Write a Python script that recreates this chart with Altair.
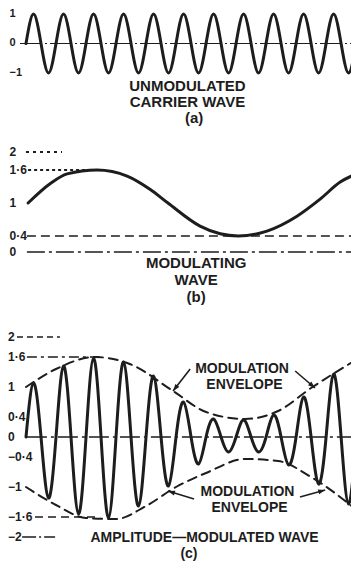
import math
import altair as alt
import pandas as pd

FONT = "Liberation Sans"
INK = "#1d1d1d"

# ---------------- data (time measured in carrier cycles) ----------------
# (a) unmodulated carrier: zero crossings and crests
a_time = [0.0, 0.25, 0.5, 0.75, 1.0, 1.25, 1.5, 1.75, 2.0, 2.25, 2.5, 2.75,
          3.0, 3.25, 3.5, 3.75, 4.0, 4.25, 4.5, 4.75, 5.0, 5.25, 5.5, 5.75,
          6.0, 6.25, 6.5, 6.75, 7.0, 7.25, 7.5, 7.75, 8.0, 8.25, 8.5, 8.75,
          9.0, 9.25, 9.5, 9.75, 10.0, 10.25, 10.5, 10.75, 11.0]
a_value = [0, 1, 0, -1, 0, 1, 0, -1, 0, 1, 0, -1,
           0, 1, 0, -1, 0, 1, 0, -1, 0, 1, 0, -1,
           0, 1, 0, -1, 0, 1, 0, -1, 0, 1, 0, -1,
           0, 1, 0, -1, 0, 1, 0, -1, 0]

# (b) modulating wave
b_time = [0.07, 0.8, 1.37, 2.37, 3.37, 4.13, 4.73, 5.8, 6.47, 7.07, 8.03, 9.03, 9.8, 10.47, 11.1]
b_value = [1.0, 1.35, 1.53, 1.6, 1.49, 1.25, 1.0, 0.58, 0.44, 0.4, 0.49, 0.76, 1.07, 1.38, 1.55]

# (c) amplitude-modulated wave (same instants as the carrier)
c_time = a_time
c_value = [0, 1.08, 0, -1.22, 0, 1.42, 0, -1.54, 0, 1.58, 0, -1.62,
           0, 1.50, 0, -1.38, 0, 1.22, 0, -0.98, 0, 0.70, 0, -0.54,
           0, 0.36, 0, -0.30, 0, 0.34, 0, -0.30, 0, 0.44, 0, -0.56,
           0, 0.80, 0, -0.94, 0, 1.26, 0, -1.34, 0]

env_upper_time = [0.0, 1.0, 2.3, 3.5, 4.9, 6.0, 7.3, 8.4, 9.5, 11.1]
env_upper_value = [1.0, 1.36, 1.60, 1.45, 0.92, 0.50, 0.36, 0.52, 0.98, 1.58]
env_lower_time = [0.0, 1.0, 2.0, 3.0, 4.0, 5.0, 6.0, 7.3, 8.4, 9.5, 11.1]
env_lower_value = [-1.0, -1.36, -1.62, -1.64, -1.38, -1.0, -0.72, -0.44, -0.48, -0.8, -1.5]

a_ticks = [1, 0, -1]
a_tick_labels = ["1", "0", "\u22121"]
b_ticks = [2, 1.6, 1, 0.4, 0]
b_tick_labels = ["2", "1\u00b76", "1", "0\u00b74", "0"]
c_ticks = [2, 1.6, 1, 0.4, 0, -0.4, -1, -1.6, -2]
c_tick_labels = ["2", "1\u00b76", "1", "0\u00b74", "0", "\u22120\u00b74", "\u22121", "\u22121\u00b76", "\u22122"]

# ---------------- scales ----------------
W = 343
X_END = 10.83
X = alt.Scale(domain=[-0.6, X_END], nice=False, zero=False)
YA = alt.Scale(domain=[-2.832, 1.17], nice=False, zero=False)
YB = alt.Scale(domain=[-1.413, 0, 0.4, 1.6, 2, 2.556], range=[178, 125, 109, 43, 25, 0], nice=False, zero=False)
YC = alt.Scale(domain=[-2.5, 2.64], nice=False, zero=False)


def xq(f):
    return alt.X(f"{f}:Q", scale=X, axis=None)


def yq(f, s):
    return alt.Y(f"{f}:Q", scale=s, axis=None)


def wave(t, v, s, interp, width=3, dash=None):
    kw = dict(interpolate=interp, color=INK, strokeWidth=width, strokeCap="round", clip=True)
    if dash:
        kw["strokeDash"] = dash
    return alt.Chart(pd.DataFrame({"t": t, "v": v})).mark_line(**kw).encode(x=xq("t"), y=yq("v", s))


def hline(t0, t1, v, s, dash, width=1.4):
    return alt.Chart(pd.DataFrame({"t0": [t0], "t1": [t1], "v": [v]})).mark_rule(
        color=INK, strokeWidth=width, strokeDash=dash, clip=True
    ).encode(x=xq("t0"), x2="t1:Q", y=yq("v", s))


def ticklabels(vals, labels, s, tx, size=12):
    df = pd.DataFrame({"v": vals, "label": labels, "tx": [tx] * len(vals)})
    return alt.Chart(df).mark_text(
        align="left", baseline="middle", font=FONT, fontSize=size, fontWeight="bold", color=INK
    ).encode(x=xq("tx"), y=yq("v", s), text="label:N")


def captions(texts, ts, vs, s, size=14):
    df = pd.DataFrame({"text": texts, "t": ts, "v": vs})
    return alt.Chart(df).mark_text(
        align="center", baseline="middle", font=FONT, fontSize=size, fontWeight="bold", color=INK
    ).encode(x=xq("t"), y=yq("v", s), text="text:N")


# ---------------- panel (a) ----------------
panel_a = alt.layer(
    hline(-0.2, X_END, 0, YA, [22, 3, 2, 3], 1.2),
    wave(a_time, a_value, YA, "natural"),
    ticklabels(a_ticks, a_tick_labels, YA, -0.55, 11),
    captions(["UNMODULATED", "CARRIER WAVE", "(a)"], [5.38, 5.38, 5.6], [-1.442, -1.985, -2.527], YA, 15),
).properties(width=W, height=118)

# ---------------- panel (b) ----------------
panel_b = alt.layer(
    hline(0.0, 1.2, 2, YB, [3, 4], 2),
    hline(0.07, 2.3, 1.6, YB, [3, 3], 2),
    hline(0.03, X_END, 0.4, YB, [9, 5], 1.6),
    hline(0.03, X_END, 0, YB, [18, 4, 3, 4], 1.6),
    wave(b_time, b_value, YB, "monotone"),
    ticklabels(b_ticks, b_tick_labels, YB, -0.55),
    captions(["MODULATING", "WAVE", "(b)"], [5.67, 5.67, 5.67], [-0.293, -0.747, -1.2], YB, 15),
).properties(width=W, height=178)

# ---------------- panel (c) ----------------
arrows = pd.DataFrame({
    "t1": [5.47, 8.97, 5.6, 9.13],
    "v1": [1.36, 1.32, -1.24, -1.2],
    "t2": [4.9, 9.63, 4.73, 9.97],
    "v2": [0.92, 0.98, -1.08, -1.06],
})
arrows["ang"] = [
    math.degrees(math.atan2((b - a) * 30, (d - c) * 50)) % 360
    for a, b, c, d in zip(arrows.t1, arrows.t2, arrows.v1, arrows.v2)
]
arrow_lines = alt.Chart(arrows).mark_rule(color=INK, strokeWidth=1.6).encode(
    x=xq("t1"), y=yq("v1", YC), x2="t2:Q", y2="v2:Q"
)
arrow_heads = alt.Chart(arrows).mark_point(
    shape="M0,0L-0.5,1.4L0.5,1.4Z", filled=True, size=100, color=INK, opacity=1
).encode(x=xq("t2"), y=yq("v2", YC), angle=alt.Angle("ang:Q", scale=None))

panel_c = alt.layer(
    hline(-0.3, 1.13, 2, YC, [6, 4], 1.6),
    hline(0.03, 2.47, 1.6, YC, [10, 4, 3, 4], 1.6),
    hline(0.3, 2.47, -1.6, YC, [8, 5], 1.6),
    hline(-0.13, 0.97, -2, YC, [14, 3, 2, 3], 1.6),
    hline(0.03, X_END, 0, YC, [20, 4, 3, 4], 1.4),
    wave(env_upper_time, env_upper_value, YC, "monotone", 2, [9, 6]),
    wave(env_lower_time, env_lower_value, YC, "monotone", 2, [9, 6]),
    wave(c_time, c_value, YC, "natural"),
    arrow_lines,
    arrow_heads,
    ticklabels(c_ticks, c_tick_labels, YC, -0.6),
    captions(
        ["MODULATION", "ENVELOPE", "MODULATION", "ENVELOPE", "AMPLITUDE\u2014MODULATED WAVE", "(c)"],
        [7.2, 7.28, 7.38, 7.45, 5.95, 5.43],
        [1.36, 1.04, -1.1, -1.42, -2.02, -2.34],
        YC,
    ),
).properties(width=W, height=257)

chart = alt.vconcat(panel_a, panel_b, panel_c, spacing=0, bounds="flush").properties(
    padding=0, background="white"
).configure_view(stroke=None)

chart.save("out.html", embed_options={"renderer": "svg", "actions": False})
